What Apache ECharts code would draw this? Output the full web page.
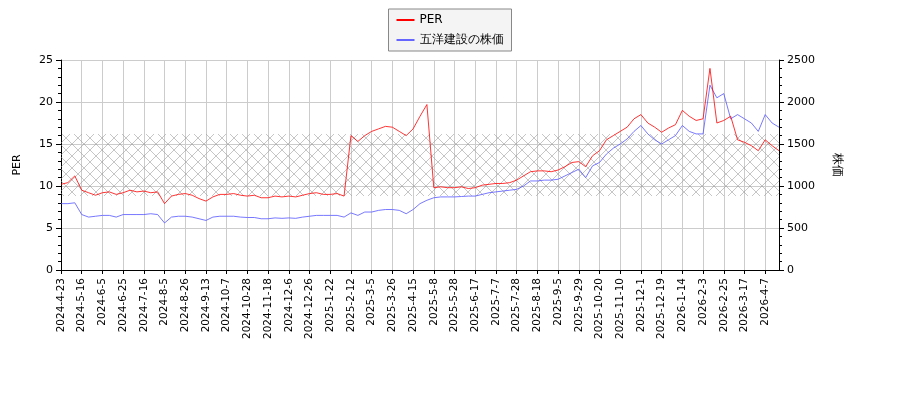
<!DOCTYPE html>
<html><head><meta charset="utf-8">
<script src="https://cdn.jsdelivr.net/npm/echarts@6/dist/echarts.min.js"></script>
<style>body{margin:0}#c{width:900px;height:400px}</style></head>
<body><div id="c"></div>
<script>
const tickLabels=['2024-4-23','2024-5-16','2024-6-5','2024-6-25','2024-7-16','2024-8-5','2024-8-26','2024-9-13','2024-10-7','2024-10-28','2024-11-18','2024-12-6','2024-12-26','2025-1-22','2025-2-12','2025-3-5','2025-3-26','2025-4-15','2025-5-8','2025-5-28','2025-6-17','2025-7-7','2025-7-28','2025-8-18','2025-9-5','2025-9-29','2025-10-20','2025-11-10','2025-12-1','2025-12-19','2026-1-14','2026-2-3','2026-2-25','2026-3-17','2026-4-7'];
const per=[10.2,10.4,11.2, 9.5,9.2,8.9, 9.2,9.3,9.0, 9.2,9.5,9.3, 9.4,9.2,9.3, 7.9,8.8,9.0, 9.1,8.9,8.5, 8.2,8.7,9.0, 9.0,9.1,8.9, 8.8,8.9,8.6, 8.6,8.8,8.7, 8.8,8.7,8.9, 9.1,9.2,9.0, 9.0,9.1,8.8, 16.0,15.3,16.0, 16.5,16.8,17.1, 17.0,16.5,16.0, 16.8,18.3,19.7, 9.8,9.9,9.8, 9.8,9.9,9.7, 9.8,10.1,10.2, 10.3,10.3,10.4, 10.7,11.2,11.7, 11.8,11.8,11.7, 11.9,12.3,12.8, 12.9,12.3,13.6, 14.2,15.5,16.0, 16.5,17.0,18.0, 18.5,17.5,17.0, 16.4,16.9,17.3, 19.0,18.3,17.8, 18.0,24.0,17.5, 17.8,18.3,15.5, 15.2,14.8,14.2, 15.5,14.8,14.2];
const price=[790,790,800, 660,630,640, 650,650,630, 660,660,660, 660,670,660, 560,630,640, 640,630,610, 590,630,640, 640,640,630, 625,625,610, 610,620,615, 620,615,630, 640,650,650, 650,650,630, 680,650,690, 690,710,720, 720,710,670, 720,790,830, 860,870,870, 870,875,880, 880,900,920, 930,940,950, 960,1000,1060, 1060,1070,1070, 1080,1120,1160, 1200,1100,1240, 1280,1380,1450, 1500,1560,1650, 1720,1620,1550, 1500,1550,1600, 1720,1650,1620, 1620,2200,2050, 2100,1800,1850, 1800,1750,1650, 1850,1750,1700];
const cats=[];
tickLabels.forEach(t=>{cats.push(t);cats.push(t+' ');cats.push(t+'  ');});
const pc=document.createElement('canvas');pc.width=12;pc.height=12;
const g=pc.getContext('2d');g.strokeStyle='#999';g.lineWidth=0.7;
g.beginPath();g.moveTo(0,0);g.lineTo(12,12);g.moveTo(12,0);g.lineTo(0,12);g.stroke();
const ch=echarts.init(document.getElementById('c'));
const f='DejaVu Sans';
ch.setOption({
 animation:false,
 textStyle:{fontFamily:f},
 legend:{orient:'vertical',top:9,left:'center',backgroundColor:'#f4f4f4',borderColor:'#888',borderWidth:1,borderRadius:0,itemWidth:18,itemHeight:2,itemGap:8,padding:[5,8],textStyle:{fontSize:12,color:'#000'},
  data:[{name:'PER',icon:'rect'},{name:'五洋建設の株価',icon:'rect'}]},
 grid:{left:61,right:121,top:60,bottom:130},
 xAxis:{type:'category',data:cats,boundaryGap:false,
  axisLine:{lineStyle:{color:'#000'}},
  axisTick:{interval:(i)=>i%3===0,length:4,lineStyle:{color:'#000'}},
  axisLabel:{interval:(i)=>i%3===0,rotate:90,fontSize:10.5,color:'#000',formatter:v=>v.trim()},
  splitLine:{show:true,interval:(i)=>i%3===0,lineStyle:{color:'#ccc'}}},
 yAxis:[{type:'value',min:0,max:25,interval:5,name:'PER',nameLocation:'middle',nameGap:38,nameTextStyle:{fontSize:11,color:'#000'},
  axisLine:{show:true,lineStyle:{color:'#000'}},axisTick:{show:true,lineStyle:{color:'#000'}},
  minorTick:{show:true,splitNumber:5,lineStyle:{color:'#000'}},
  axisLabel:{fontSize:11,color:'#000'},splitLine:{lineStyle:{color:'#ccc'}}},
 {type:'value',min:0,max:2500,interval:500,name:'株価',nameLocation:'middle',nameGap:52,nameRotate:-90,nameTextStyle:{fontSize:12,color:'#000'},
  axisLine:{show:true,lineStyle:{color:'#000'}},axisTick:{show:true,lineStyle:{color:'#000'}},
  minorTick:{show:true,splitNumber:5,lineStyle:{color:'#000'}},
  axisLabel:{fontSize:11,color:'#000',formatter:v=>String(v)},splitLine:{show:false}}],
 series:[
  {name:'PER',type:'line',data:per,symbol:'none',lineStyle:{color:'#f00',width:0.8},itemStyle:{color:'#f00'},z:3,
   markArea:{silent:true,itemStyle:{color:{image:pc,repeat:'repeat'},opacity:0.8},data:[[{yAxis:8.8},{yAxis:16.2}]]}},
  {name:'五洋建設の株価',type:'line',yAxisIndex:1,data:price,symbol:'none',lineStyle:{color:'#55f',width:0.8},itemStyle:{color:'#66f'},z:2}
 ]
});
</script></body></html>
